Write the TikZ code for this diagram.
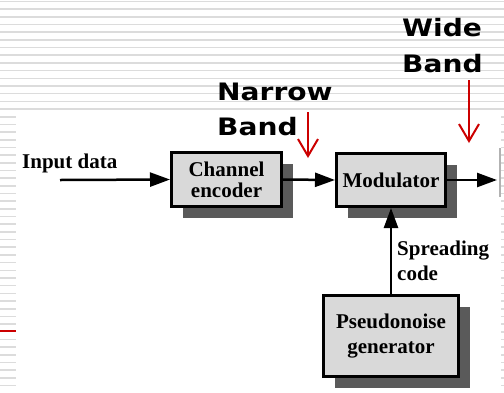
\documentclass[tikz,border=0pt]{standalone}
\usepackage{fontspec}
\setmainfont{Liberation Serif}
\newfontfamily\bandfont{DejaVu Sans}[FakeStretch=1.17]
\usetikzlibrary{arrows.meta,shadows}
\definecolor{bgline}{HTML}{DCDCDC}
\definecolor{boxfill}{HTML}{D9D9D9}
\definecolor{shadowc}{HTML}{5A5A5A}
\definecolor{bandred}{HTML}{CC0000}
\begin{document}
\begin{tikzpicture}[x=1pt,y=-1pt,
  blockbox/.style={draw=black, line width=3pt, fill=boxfill, align=center, inner sep=0pt,
    font=\bfseries\fontsize{21}{21}\selectfont,
    drop shadow={shadow xshift=11pt, shadow yshift=-11pt, fill=shadowc, opacity=1}},
  flow/.style={line width=2.5pt, -{Triangle[length=20pt,width=14pt]}},
  bandarrow/.style={draw=bandred, line width=2pt, -{Straight Barb[length=17pt,width=20pt]}},
  bandlabel/.style={anchor=base west, inner sep=0pt, font=\bandfont\bfseries\fontsize{24}{24}\selectfont},
  serlabel/.style={anchor=base west, inner sep=0pt, font=\bfseries\fontsize{21}{21}\selectfont},
  bgrule/.style={draw=bgline, line width=1.6pt}
]
\useasboundingbox (0,0) rectangle (504,392);
\fill[white] (0,0) rectangle (504,392);
% background ruling
\foreach \k in {0,...,14} \draw[bgrule] (0,{1.5+7.68*\k}) -- (504,{1.5+7.68*\k});
\foreach \k in {15,...,42,44,45,...,50} \draw[bgrule] (0,{1.5+7.68*\k}) -- (16,{1.5+7.68*\k});
\foreach \k in {15,...,50} \draw[bgrule] (501,{1.5+7.68*\k}) -- (504,{1.5+7.68*\k});
\draw[bandred, line width=2pt] (0,330.5) -- (16,330.5);
\draw[gray!60, line width=2pt] (500,148) -- (500,197);

% blocks
\node[blockbox, minimum width=110pt, minimum height=54pt] (enc) at (226.5,179.5) {Channel\\encoder};
\node[blockbox, minimum width=109pt, minimum height=53pt] (mod) at (391,180) {Modulator};
\node[blockbox, minimum width=135pt, minimum height=81pt, font=\bfseries\fontsize{21}{25}\selectfont] (pn) at (391,336) {Pseudonoise\\generator};

% labels
\node[serlabel] (inlabel) at (22,168) {Input data};
\node[serlabel] (spread1) at (397,255) {Spreading};
\node[serlabel] (spread2) at (397,280) {code};
\node[bandlabel] (narrow1) at (217,100.5) {Narrow};
\node[bandlabel] (narrow2) at (217,135) {Band};
\node[bandlabel] (wide1) at (402,36) {Wide};
\node[bandlabel] (wide2) at (402,72) {Band};

% connectors
\coordinate (in) at (60,180);
\coordinate (out) at (497,180);
\draw[flow] (in) -- (enc.west);
\draw[flow] (enc.east) -- (mod.west);
\draw[flow] (mod.east) -- (out);
\draw[flow] (pn.north) -- (mod.south);

% band markers
\coordinate (nb0) at (308,112);
\coordinate (nb1) at (308,158);
\draw[bandarrow] (nb0) -- (nb1);
\coordinate (wb0) at (469,80);
\coordinate (wb1) at (469,143);
\draw[bandarrow] (wb0) -- (wb1);
\end{tikzpicture}
\end{document}
